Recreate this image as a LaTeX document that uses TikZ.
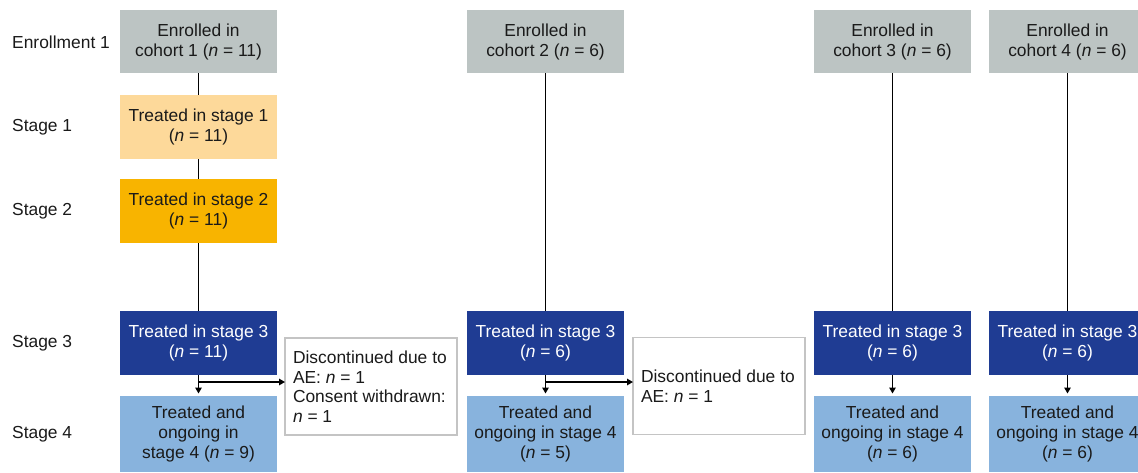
\documentclass[tikz,border=0pt]{standalone}
\usepackage{fontspec}
\setmainfont{Liberation Sans}
\usetikzlibrary{arrows.meta}
\definecolor{enrgray}{HTML}{BCC4C3}
\definecolor{lightorange}{HTML}{FDD99A}
\definecolor{darkorange}{HTML}{F8B400}
\definecolor{darkblue}{HTML}{1F3C93}
\definecolor{lightblue}{HTML}{88B3DD}
\definecolor{boxborder}{HTML}{C4C4C4}
\definecolor{txt}{HTML}{1A1A1A}
\tikzset{
  base/.style={inner sep=0pt, outer sep=0pt, align=center, font=\fontsize{17.4}{20}\selectfont, text=txt, minimum width=157pt, minimum height=64pt},
  enrbox/.style={base, fill=enrgray, minimum height=63pt},
  s1box/.style={base, fill=lightorange},
  s2box/.style={base, fill=darkorange},
  s3box/.style={base, fill=darkblue, text=white},
  s4box/.style={base, fill=lightblue, minimum height=76pt},
  discbox/.style={inner sep=0pt, outer sep=0pt, draw=boxborder, line width=1.2pt, fill=white, minimum width=172pt, minimum height=97pt, align=left, font=\fontsize{17.4}{19.5}\selectfont, text=txt},
  rowlabel/.style={anchor=west, inner sep=0pt, font=\fontsize{17.4}{20}\selectfont, text=txt},
  conn/.style={line width=1.4pt, draw=black},
  arr/.style={conn, -{Triangle[length=6pt,width=6.5pt]}}
}
\begin{document}
\begin{tikzpicture}[x=1pt,y=-1pt]
\useasboundingbox (0,0) rectangle (1138,472);
% row labels
\node[rowlabel] (lenr) at (12,42) {Enrollment 1};
\node[rowlabel] (ls1) at (12,127) {Stage 1};
\node[rowlabel] (ls2) at (12,211) {Stage 2};
\node[rowlabel] (ls3) at (12,343) {Stage 3};
\node[rowlabel] (ls4) at (12,434) {Stage 4};
% column 1
\node[enrbox] (e1) at (198.5,41.5) {Enrolled in\\cohort 1 (\textit{n} = 11)};
\node[s1box] (a1) at (198.5,127) {Treated in stage 1\\(\textit{n} = 11)};
\node[s2box] (b1) at (198.5,211) {Treated in stage 2\\(\textit{n} = 11)};
\node[s3box] (c1) at (198.5,343) {Treated in stage 3\\(\textit{n} = 11)};
\node[s4box] (f1) at (198.5,434) {Treated and\\ongoing in\\stage 4 (\textit{n} = 9)};
\node[discbox] (d1) at (371,386.5) {\parbox{156pt}{Discontinued due to\\AE: \textit{n} = 1\\Consent withdrawn:\\\textit{n} = 1}};
% column 2
\node[enrbox] (e2) at (545.5,41.5) {Enrolled in\\cohort 2 (\textit{n} = 6)};
\node[s3box] (c2) at (545.5,343) {Treated in stage 3\\(\textit{n} = 6)};
\node[s4box] (f2) at (545.5,434) {Treated and\\ongoing in stage 4\\(\textit{n} = 5)};
\node[discbox] (d2) at (719,386) {\parbox{156pt}{Discontinued due to\\AE: \textit{n} = 1}};
% column 3
\node[enrbox] (e3) at (892.5,41.5) {Enrolled in\\cohort 3 (\textit{n} = 6)};
\node[s3box] (c3) at (892.5,343) {Treated in stage 3\\(\textit{n} = 6)};
\node[s4box] (f3) at (892.5,434) {Treated and\\ongoing in stage 4\\(\textit{n} = 6)};
% column 4
\node[enrbox] (e4) at (1067.5,41.5) {Enrolled in\\cohort 4 (\textit{n} = 6)};
\node[s3box] (c4) at (1067.5,343) {Treated in stage 3\\(\textit{n} = 6)};
\node[s4box] (f4) at (1067.5,434) {Treated and\\ongoing in stage 4\\(\textit{n} = 6)};
% connectors
\draw[conn] (e1) -- (a1);
\draw[conn] (a1) -- (b1);
\draw[conn] (b1) -- (c1);
\draw[arr, shorten >=2.5pt] (c1) -- (f1);
\coordinate (j1) at (198.5,382);
\draw[arr] (j1) -- (j1 -| d1.west);
\draw[conn] (e2) -- (c2);
\draw[arr, shorten >=2.5pt] (c2) -- (f2);
\coordinate (j2) at (545.5,382);
\draw[arr] (j2) -- (j2 -| d2.west);
\draw[conn] (e3) -- (c3);
\draw[arr, shorten >=2.5pt] (c3) -- (f3);
\draw[conn] (e4) -- (c4);
\draw[arr, shorten >=2.5pt] (c4) -- (f4);
\end{tikzpicture}
\end{document}
